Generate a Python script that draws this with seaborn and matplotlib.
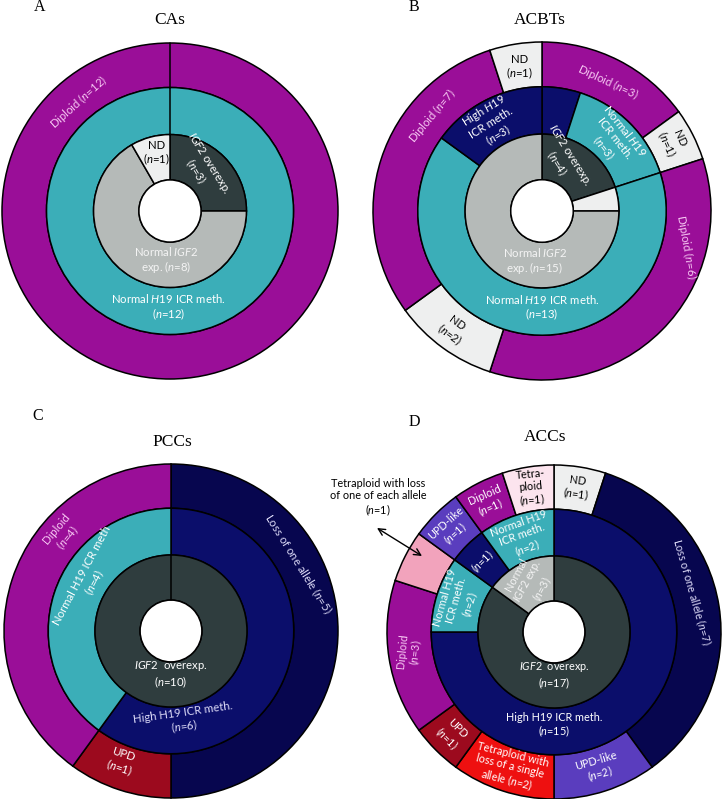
import numpy as np
import matplotlib
matplotlib.use('Agg')
import matplotlib.pyplot as plt
import seaborn as sns

sns.set_theme(style='white')
plt.rcParams['font.family'] = ['Lato', 'DejaVu Sans']
plt.rcParams['mathtext.fontset'] = 'custom'
plt.rcParams['mathtext.rm'] = 'Lato'
plt.rcParams['mathtext.it'] = 'Lato:italic'

N = r'$\mathit{n}$'
IGF2 = r'$\mathit{IGF2}$'
H19 = r'$\mathit{H19}$'

# colours
DIPLOID = '#9A0E98'
TEAL = '#3BAEB8'
DARK = '#2F3D3E'
LGRAY = '#B5BAB8'
ND = '#EEEFEF'
NAVY = '#0B0E6B'
DNAVY = '#07064F'
UPD = '#9C0A1E'
UPDLIKE = '#5A3DBE'
TETRA_LOSS = '#EE1010'
TETRA = '#FCE4EE'
PINK = '#F2A3BC'

# ---- data (clockwise from 12 o'clock) ----
# A: CAs
a_inner = [3, 8, 1]
a_inner_col = [DARK, LGRAY, ND]
a_middle = [12]
a_middle_col = [TEAL]
a_outer = [12]
a_outer_col = [DIPLOID]

# B: ACBTs
b_inner = [4, 1, 15]
b_inner_col = [DARK, ND, LGRAY]
b_middle = [1, 3, 13, 3]
b_middle_col = [NAVY, TEAL, TEAL, NAVY]
b_outer = [3, 1, 7, 2, 6, 1]
b_outer_col = [DIPLOID, ND, DIPLOID, ND, DIPLOID, ND]

# C: PCCs
c_inner = [10]
c_inner_col = [DARK]
c_middle = [6, 4]
c_middle_col = [NAVY, TEAL]
c_outer = [5, 1, 4]
c_outer_col = [DNAVY, UPD, DIPLOID]

# D: ACCs
d_inner = [17, 3]
d_inner_col = [DARK, LGRAY]
d_middle = [15, 2, 1, 2]
d_middle_col = [NAVY, TEAL, NAVY, TEAL]
d_outer = [1, 7, 2, 2, 1, 3, 1, 1, 1, 1]
d_outer_col = [ND, DNAVY, UPDLIKE, TETRA_LOSS, UPD, DIPLOID, PINK, UPDLIKE, DIPLOID, TETRA]

W, H = 725, 799
fig = plt.figure(figsize=(W / 100, H / 100), dpi=100)
ax = fig.add_axes([0, 0, 1, 1])

FR = [0.185, 0.455, 0.735, 1.0]
PINKTXT = '#F7C8F3'
LAV = '#DCDAF7'
FS = 8.2
FSD = 7.8


def ring(cx, cy, R, k, sizes, colors, top_line=False):
    r_in, r_out = FR[k] * R, FR[k + 1] * R
    ax.pie(sizes, colors=colors, radius=r_out, center=(cx, cy), startangle=90,
           counterclock=False,
           wedgeprops=dict(width=r_out - r_in, edgecolor='black', linewidth=1.1))
    if top_line:
        ax.plot([cx, cx], [cy + r_in, cy + r_out], color='black', lw=1.1)


def put(cx, cy, R, theta, rf, text, rot=0, color='white', size=FS):
    t = np.deg2rad(theta)
    x = cx + rf * R * np.sin(t)
    y = cy + rf * R * np.cos(t)
    ax.text(x, y, text, rotation=rot, ha='center', va='center', rotation_mode='anchor',
            multialignment='center', color=color, fontsize=size, linespacing=1.1)


def hole(cx, cy, R):
    ax.add_patch(plt.Circle((cx, cy), FR[0] * R, facecolor='white', edgecolor='black', lw=1.1))


def panel(cx, cy, R, inner, inner_col, middle, middle_col, outer, outer_col, lines=(False, False, False)):
    ring(cx, cy, R, 2, outer, outer_col, lines[2])
    ring(cx, cy, R, 1, middle, middle_col, lines[1])
    ring(cx, cy, R, 0, inner, inner_col, lines[0])
    hole(cx, cy, R)


# ---- A ----
cx, cy, R = 170, H - 211, 168
panel(cx, cy, R, a_inner, a_inner_col, a_middle, a_middle_col, a_outer, a_outer_col,
      lines=(False, True, True))
put(cx, cy, R, 347, 0.35, 'ND\n(' + N + '=1)', color='black')
put(cx, cy, R, 36, 0.32, IGF2 + ' overexp.\n(' + N + '=3)', rot=-58)
put(cx, cy, R, 184, 0.29, 'Normal ' + IGF2 + '\nexp. (' + N + '=8)', color='#F4F4F4')
put(cx, cy, R, 181, 0.57, 'Normal ' + H19 + ' ICR meth.\n(' + N + '=12)')
put(cx, cy, R, 320, 0.85, 'Diploid (' + N + '=12)', rot=42, color=PINKTXT)

# ---- B ----
cx, cy, R = 542, H - 211, 169
panel(cx, cy, R, b_inner, b_inner_col, b_middle, b_middle_col, b_outer, b_outer_col)
put(cx, cy, R, 351, 0.86, 'ND\n(' + N + '=1)', color='black')
put(cx, cy, R, 27, 0.86, 'Diploid (' + N + '=3)', rot=-25, color=PINKTXT)
put(cx, cy, R, 62, 0.87, 'ND\n(' + N + '=1)', rot=-66, color='black')
put(cx, cy, R, 104, 0.88, 'Diploid (' + N + '=6)', rot=-80, color=PINKTXT)
put(cx, cy, R, 311, 0.86, 'Diploid (' + N + '=7)', rot=50, color=PINKTXT)
put(cx, cy, R, 217, 0.88, 'ND\n(' + N + '=2)', rot=-36, color='black')
put(cx, cy, R, 330, 0.6, 'High ' + H19 + '\nICR meth.\n(' + N + '=3)', rot=32)
put(cx, cy, R, 45, 0.6, 'Normal ' + H19 + '\nICR meth.\n(' + N + '=3)', rot=-52)
put(cx, cy, R, 22, 0.33, IGF2 + ' overexp.\n(' + N + '=4)', rot=-58)
put(cx, cy, R, 188, 0.3, 'Normal ' + IGF2 + '\nexp. (' + N + '=15)', color='#F4F4F4')
put(cx, cy, R, 180, 0.57, 'Normal ' + H19 + ' ICR meth.\n(' + N + '=13)')

# ---- C ----
cx, cy, R = 171, H - 631, 167
panel(cx, cy, R, c_inner, c_inner_col, c_middle, c_middle_col, c_outer, c_outer_col,
      lines=(True, False, False))
put(cx, cy, R, 312, 0.87, 'Diploid\n(' + N + '=4)', rot=50, color=PINKTXT)
put(cx, cy, R, 302, 0.58, 'Normal H19 ICR meth\n(' + N + '=4)', rot=62)
put(cx, cy, R, 62, 0.86, 'Loss of one allele (' + N + '=5)', rot=-58, color=LAV)
put(cx, cy, R, 180, 0.26, IGF2 + '  overexp.\n(' + N + '=10)')
put(cx, cy, R, 172, 0.54, 'High H19 ICR meth.\n(' + N + '=6)', rot=8, color=LAV)
put(cx, cy, R, 201, 0.84, 'UPD\n(' + N + '=1)', rot=-18)

# ---- D ----
cx, cy, R = 554, H - 632, 167
panel(cx, cy, R, d_inner, d_inner_col, d_middle, d_middle_col, d_outer, d_outer_col)
put(cx, cy, R, 351, 0.87, 'Tetra-\nploid\n(' + N + '=1)', rot=5, color='black', size=FSD)
put(cx, cy, R, 9, 0.87, 'ND\n(' + N + '=1)', rot=-8, color='black', size=FSD)
put(cx, cy, R, 333, 0.87, 'Diploid\n(' + N + '=1)', rot=24, size=FSD)
put(cx, cy, R, 315, 0.87, 'UPD-like\n(' + N + '=1)', rot=42, size=FSD)
put(cx, cy, R, 74, 0.86, 'Loss of one allele (' + N + '=7)', rot=-74, color=LAV, size=FSD)
put(cx, cy, R, 342, 0.6, 'Normal H19\nICR meth.\n(' + N + '=2)', rot=20, size=FSD)
put(cx, cy, R, 315, 0.6, '(' + N + '=1)', rot=45, size=FSD)
put(cx, cy, R, 334, 0.33, 'Normal\n' + IGF2 + ' exp.\n(' + N + '=3)', rot=62, color='#F4F4F4', size=FSD)
put(cx, cy, R, 288, 0.6, 'Normal H19\nICR meth.\n(' + N + '=2)', rot=74, size=FSD)
put(cx, cy, R, 262, 0.87, 'Diploid\n(' + N + '=3)', rot=84, color=PINKTXT, size=FSD)
put(cx, cy, R, 180, 0.26, IGF2 + '  overexp.\n(' + N + '=17)', size=FSD)
put(cx, cy, R, 180, 0.56, 'High H19 ICR meth.\n(' + N + '=15)', size=FSD)
put(cx, cy, R, 225, 0.87, 'UPD\n(' + N + '=1)', rot=-45, size=FSD)
put(cx, cy, R, 198, 0.86, 'Tetraploid with\nloss of a single\nallele (' + N + '=2)', rot=-14, size=FSD)
put(cx, cy, R, 162, 0.86, 'UPD-like\n(' + N + '=2)', rot=16, size=FSD)

# callout
ax.text(378, H - 498, 'Tetraploid with loss\nof one of each allele\n(' + N + '=1)', ha='center',
        va='center', multialignment='center', fontsize=FSD, color='black', linespacing=1.15)
ax.annotate('', xy=(422, H - 556), xytext=(377, H - 528),
            arrowprops=dict(arrowstyle='<->', lw=1, color='black', shrinkA=0, shrinkB=0))

# titles and panel letters
serif = dict(family='Liberation Serif', color='black', ha='center', va='center')
for x, y, t in [(170, 20, 'CAs'), (540, 20, 'ACBTs'), (172, 442, 'PCCs'), (545, 437, 'ACCs')]:
    ax.text(x, H - y, t, fontsize=12.5, **serif)
for x, y, t in [(40, 7, 'A'), (414, 7, 'B'), (38, 416, 'C'), (414, 422, 'D')]:
    ax.text(x, H - y, t, fontsize=11.5, **serif)

ax.set_xlim(0, W)
ax.set_ylim(0, H)
ax.set_aspect('auto')
ax.axis('off')

fig.savefig('out.png', dpi=100)
